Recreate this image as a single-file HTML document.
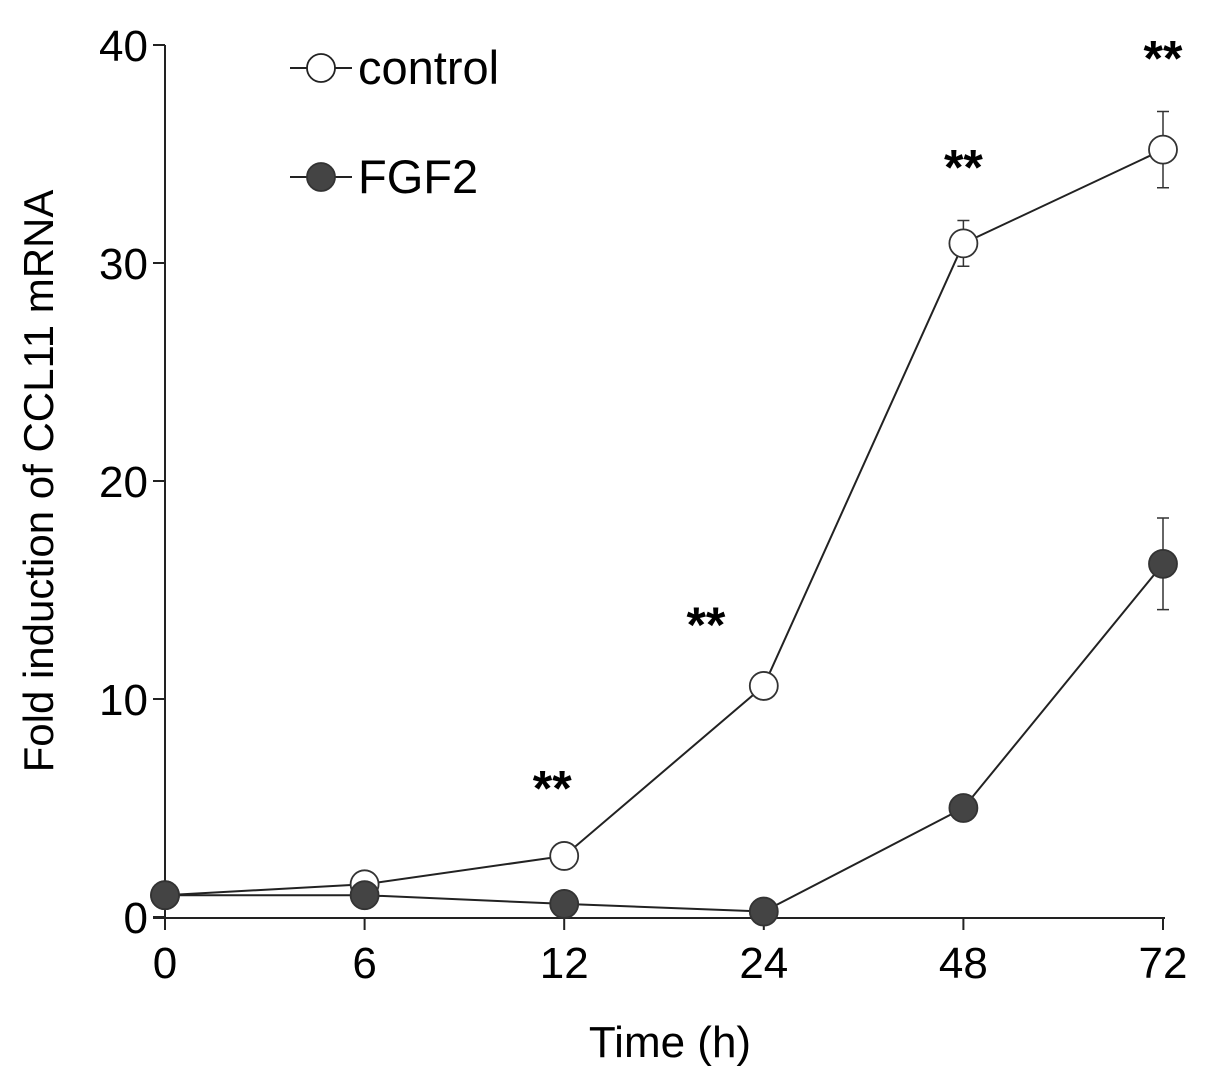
<!DOCTYPE html>
<html><head><meta charset="utf-8"><style>
body{margin:0;background:#fff}
svg{display:block;font-family:"Liberation Sans",Arial,sans-serif}
</style></head><body>
<svg id="chart" width="1205" height="1087" viewBox="0 0 1205 1087">
<g id="axes"></g><g id="series"></g>
<text x="670" y="1057" font-size="44" text-anchor="middle">Time (h)</text>
<text transform="translate(53,481) rotate(-90)" font-size="42" text-anchor="middle">Fold induction of CCL11 mRNA</text>
<g>
<g>
<line x1="290" y1="68" x2="352" y2="68" stroke="#222" stroke-width="2"/>
<circle cx="321" cy="68" r="14" fill="#fff" stroke="#222" stroke-width="1.8"/>
<text x="358" y="84" font-size="47">control</text></g>
<g>
<line x1="290" y1="177" x2="352" y2="177" stroke="#222" stroke-width="2"/>
<circle cx="321" cy="177" r="14" fill="#444" stroke="#333" stroke-width="1.8"/>
<text x="358" y="193" font-size="47">FGF2</text></g>
</g>
</svg>
<script>
const categories=["0","6","12","24","48","72"];
const controlValues=[1.0,1.5,2.8,10.6,30.9,35.2];
const controlErrors=[0,0,0,0,1.05,1.75];
const fgf2Values=[1.0,1.0,0.6,0.25,5.0,16.2];
const fgf2Errors=[0,0,0,0,0,2.1];
const yTicks=[0,10,20,30,40];
const starIndices=[2,3,4,5];
const starLevels=[6.3,13.8,34.8,39.8];
const starShift=[-0.06,-0.29,0,0];
const NS="http://www.w3.org/2000/svg";
const x=i=>165+i*199.6;
const y=v=>917-v*21.8;
function mk(tag,attrs,parent,text){const e=document.createElementNS(NS,tag);for(const k in attrs)e.setAttribute(k,attrs[k]);if(text!==undefined)e.textContent=text;parent.appendChild(e);return e;}
const axes=document.getElementById('axes'),ser=document.getElementById('series');
let a=mk('line',{x1:165,y1:y(40),x2:165,y2:918,stroke:'#222','stroke-width':2},axes);

a=mk('line',{x1:153,y1:918,x2:1165,y2:918,stroke:'#222','stroke-width':2},axes);

yTicks.forEach(t=>{
 const l=mk('line',{x1:153,y1:y(t),x2:165,y2:y(t),stroke:'#222','stroke-width':2},axes);
 
 const tx=mk('text',{x:148,y:y(t)+16,'font-size':44,'text-anchor':'end'},axes,String(t));
 
});
categories.forEach((c,i)=>{
 const l=mk('line',{x1:x(i),y1:918,x2:x(i),y2:930,stroke:'#222','stroke-width':2},axes);
 
 const tx=mk('text',{x:x(i),y:978,'font-size':44,'text-anchor':'middle'},axes,c);
 
});
function series(vals,errs,fill,name){
 const g=mk('g',{},ser);
 
 errs.forEach((e,i)=>{if(e>0){
  const eb=mk('path',{d:`M${x(i)} ${y(vals[i]+e)}V${y(vals[i]-e)}M${x(i)-6} ${y(vals[i]+e)}H${x(i)+6}M${x(i)-6} ${y(vals[i]-e)}H${x(i)+6}`,stroke:'#333','stroke-width':1.5,fill:'none'},g);
  }});
 const p=mk('polyline',{points:vals.map((v,i)=>x(i)+','+y(v)).join(' '),fill:'none',stroke:'#222','stroke-width':2},g);
 
 vals.forEach((v,i)=>{const c=mk('circle',{cx:x(i),cy:y(v),r:14,fill:fill,stroke:'#333','stroke-width':1.8},g);
  });
}
series(controlValues,controlErrors,'#fff','control');
series(fgf2Values,fgf2Errors,'#444','fgf2');
starIndices.forEach((idx,k)=>{
 const t=mk('text',{x:x(idx+starShift[k]),y:y(starLevels[k])+26,'font-size':50,'font-weight':'bold','text-anchor':'middle'},ser,'**');
 
});
</script>
</body></html>
